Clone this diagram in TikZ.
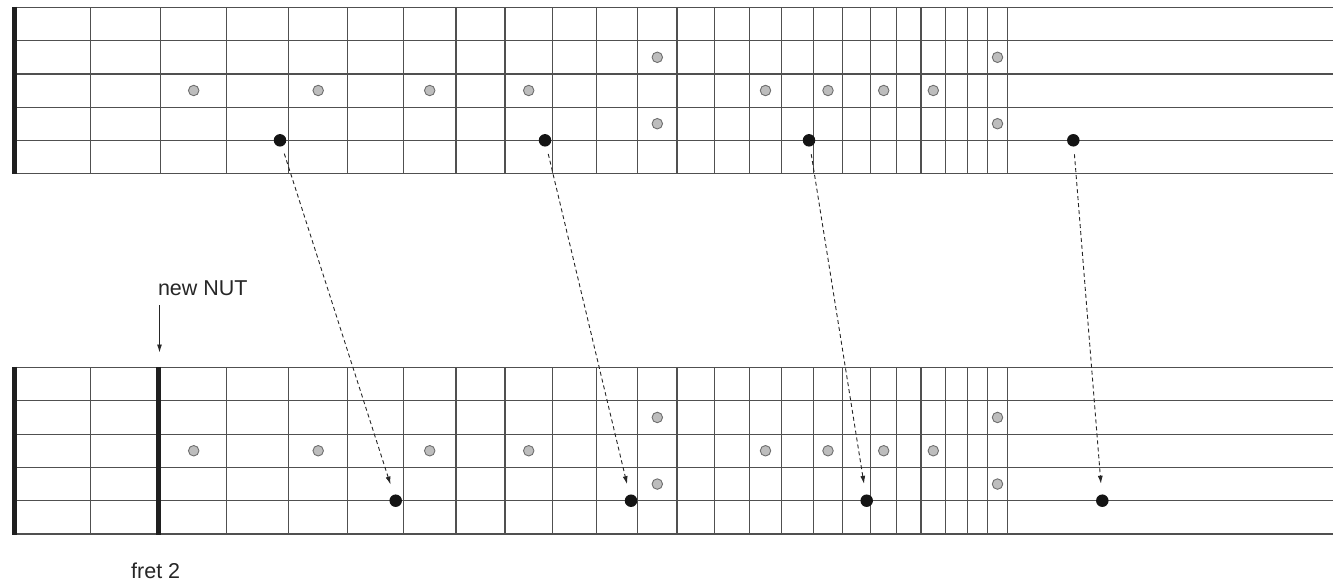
\documentclass[tikz,border=0pt]{standalone}
\usepackage{fontspec}
\setmainfont{Liberation Sans}
\usetikzlibrary{arrows.meta}
\definecolor{linegray}{HTML}{505050}
\definecolor{dotfill}{HTML}{BDBDBD}
\definecolor{dotedge}{HTML}{6E6E6E}
\begin{document}
\begin{tikzpicture}[x=1pt,y=-1pt,
  stringline/.style={draw=linegray,line width=1.2pt},
  fretline/.style={draw=linegray,line width=1.1pt},
  nutline/.style={draw=black!88,line width=5pt},
  inlay/.style={circle,fill=dotfill,draw=dotedge,line width=0.9pt,inner sep=0pt,minimum size=10.5pt},
  notedot/.style={circle,fill=black!92,inner sep=0pt,minimum size=12.5pt},
  shiftarrow/.style={draw=black!85,line width=0.9pt,dash pattern=on 4pt off 3pt,-{Latex[length=8pt,width=5pt]},shorten <=14pt,shorten >=17pt},
  nutarrow/.style={draw=black!85,line width=0.9pt,-{Latex[length=8pt,width=5pt]}},
  txt/.style={font=\fontsize{21.5}{26}\selectfont,inner sep=0pt,text=black!85}
]
\useasboundingbox (0,0) rectangle (1333,584);
\def\frets{90.7,160.7,226.7,288.7,347.7,403.3,456,505,552.3,596.7,637.7,677,714.3,749.3,781.7,813.3,842.7,870.7,896.7,921,945.7,967.3,987.3,1007.7}
% boards
\foreach \ya/\dy in {7.5/33.2, 367.5/33.3}{
  \foreach \k in {0,...,5}{
    \draw[stringline] (14,{\ya+\k*\dy}) -- (1333,{\ya+\k*\dy});
  }
  \foreach \f in \frets{
    \draw[fretline] (\f,\ya) -- (\f,{\ya+5*\dy});
  }
  \draw[nutline] (14.5,{\ya-0.6}) -- (14.5,{\ya+5*\dy+0.6});
  \foreach \x [count=\i] in {193.7,318.2,429.7,528.7,765.5,828,883.7,933.3}{
    \node[inlay] (s\i-\ya) at (\x,{\ya+2.5*\dy}) {};
  }
  \foreach \x [count=\i] in {657.3,997.5}{
    \node[inlay] (u\i-\ya) at (\x,{\ya+1.5*\dy}) {};
    \node[inlay] (l\i-\ya) at (\x,{\ya+3.5*\dy}) {};
  }
}
% new nut at fret 2
\draw[nutline] (158.7,366.9) -- (158.7,534.6);
% played notes
\node[notedot] (t1) at (280,140.3) {};
\node[notedot] (t2) at (545,140.3) {};
\node[notedot] (t3) at (809,140.3) {};
\node[notedot] (t4) at (1073.3,140.3) {};
\node[notedot] (b1) at (395.7,500.7) {};
\node[notedot] (b2) at (631,500.7) {};
\node[notedot] (b3) at (866.7,500.7) {};
\node[notedot] (b4) at (1102.3,500.7) {};
\foreach \i in {1,...,4}{
  \draw[shiftarrow] (t\i.center) -- (b\i.center);
}
% labels
\node[txt,anchor=base west] (newnut) at (157.8,295.7) {new NUT};
\node[txt,anchor=base west] (fret) at (131,578) {fret 2};
\coordinate (nutarrowstart) at (159.5,305);
\coordinate (nutarrowend) at (159.5,352.5);
\draw[nutarrow] (nutarrowstart) -- (nutarrowend);
\end{tikzpicture}
\end{document}
